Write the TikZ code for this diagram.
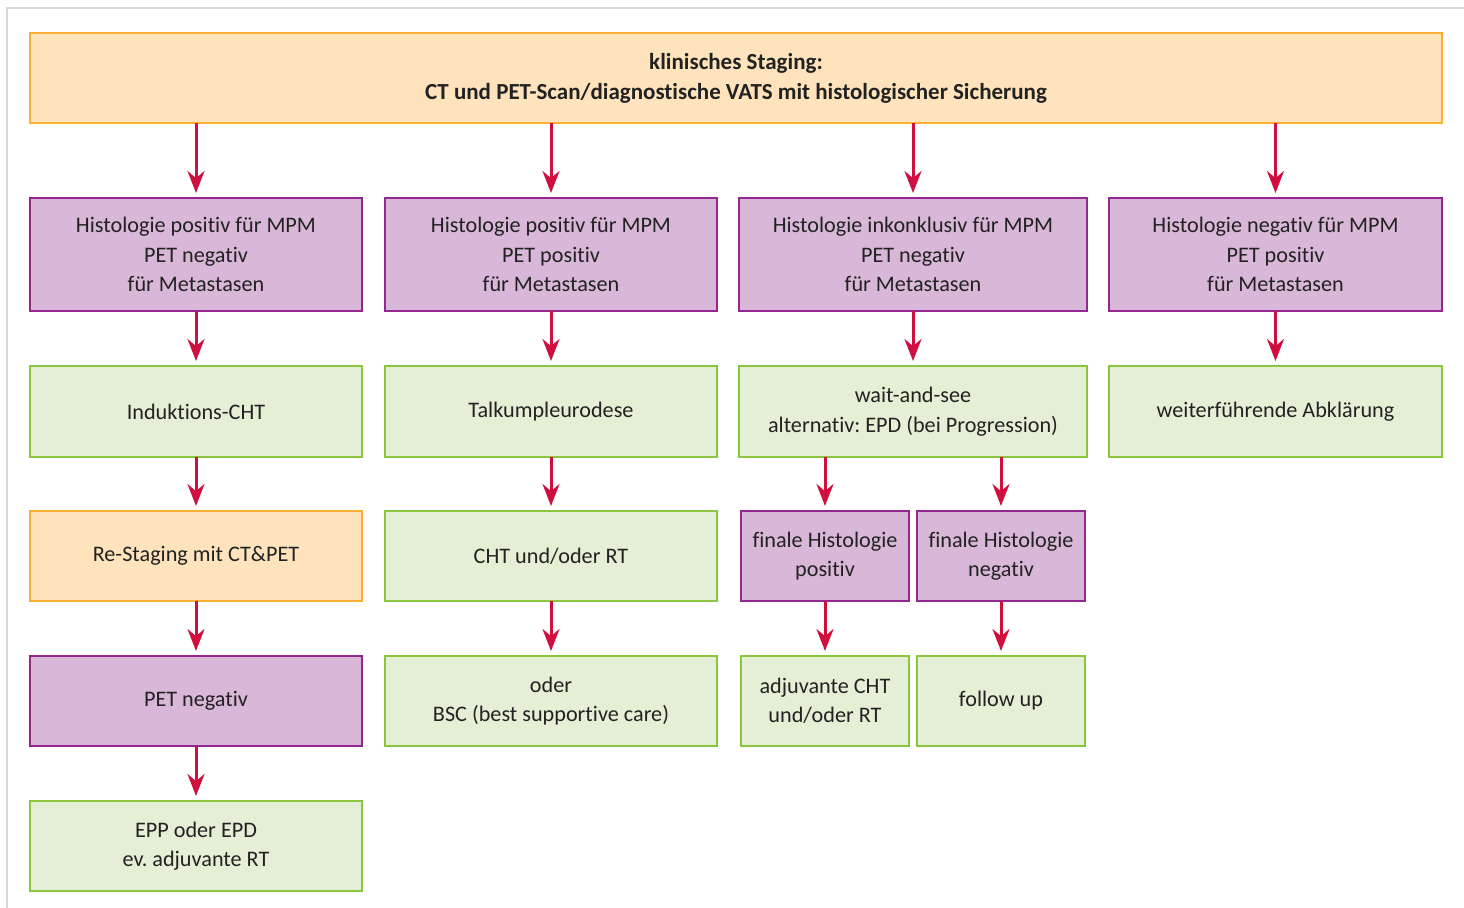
\documentclass[tikz,border=0pt]{standalone}
\usepackage{fontspec}
\setmainfont{Carlito}[Ligatures=NoCommon]
\usetikzlibrary{arrows.meta,positioning}
\frenchspacing

\definecolor{stagefill}{HTML}{FEE3BC}
\definecolor{stageline}{HTML}{FBB034}
\definecolor{befundfill}{HTML}{D9B7D8}
\definecolor{befundline}{HTML}{93278F}
\definecolor{therapiefill}{HTML}{E4EFD5}
\definecolor{therapieline}{HTML}{8CC63E}
\definecolor{pfeil}{HTML}{D10F3F}
\definecolor{schrift}{HTML}{222222}
\definecolor{rahmen}{HTML}{D9D9D9}

\begin{document}
\begin{tikzpicture}[x=0.5pt,y=-0.5pt,-{Stealth[length=11pt,width=8.5pt]},shorten >=2.5pt,
          line width=1.5pt,draw=pfeil,node distance=27.5pt,
          box/.style={rectangle,draw,line width=1pt,inner sep=0pt,outer sep=0pt,align=center,text=schrift,
            font=\fontsize{11.1}{14.75}\selectfont,minimum height=45pt,minimum width=166pt},
          staging/.style={box,draw=stageline,fill=stagefill},
          befund/.style={box,draw=befundline,fill=befundfill,minimum height=56.5pt},
          therapie/.style={box,draw=therapieline,fill=therapiefill}]

        \useasboundingbox (0,0) rectangle (1464,908);
        \draw[-,rahmen,line width=1pt,shorten >=0pt] (6.5,908) |- (1464,8);

        \node[staging,minimum width=706pt,font=\fontsize{11.5}{15}\selectfont\bfseries] (0) at (736,78)
          {klinisches Staging:\\CT und PET-Scan/diagnostische VATS mit histologischer Sicherung};

        \node[befund] (11) at (196,254.5) {Histologie positiv für MPM\\PET negativ\\für Metastasen};
        \node[befund] (21) at (551,254.5) {Histologie positiv für MPM\\PET positiv\\für Metastasen};
        \node[befund,minimum width=174pt] (31) at (913,254.5) {Histologie inkonklusiv für MPM\\PET negativ\\für Metastasen};
        \node[befund,minimum width=166.5pt] (41) at (1275.5,254.5) {Histologie negativ für MPM\\PET positiv\\für Metastasen};

        \node[therapie,minimum height=45.5pt] (12) [below=of 11] {Induktions-CHT};
        \node[staging] (13) [below=27pt of 12] {Re-Staging mit CT\&PET};
        \node[befund,minimum height=45pt] (14) [below=of 13] {PET negativ};
        \node[therapie] (15) [below=of 14] {EPP oder EPD\\ev. adjuvante RT};

        \node[therapie,minimum height=45.5pt] (22) [below=of 21] {Talkumpleurodese};
        \node[therapie] (23) [below=27pt of 22] {CHT und/oder RT};
        \node[therapie] (24) [below=of 23] {oder\\BSC (best supportive care)};

        \node[therapie,minimum width=174pt,minimum height=45.5pt] (32) [below=of 31] {wait-and-see\\alternativ: EPD (bei Progression)};
        \node[befund,minimum height=45pt,minimum width=84pt] (33a) at (825,556) {finale Histologie\\positiv};
        \node[befund,minimum height=45pt,minimum width=84pt] (33b) at (1001,556) {finale Histologie\\negativ};
        \node[therapie,minimum width=84pt] (34a) [below=of 33a] {adjuvante CHT\\und/oder RT};
        \node[therapie,minimum width=84pt] (34b) [below=of 33b] {follow up};

        \node[therapie,minimum width=166.5pt,minimum height=45.5pt] (42) [below=of 41] {weiterführende Abklärung};

        % von oben in die vier Spalten
        \foreach \n in {11,21,31,41}
          \draw (0.south -| \n) -- (\n);

        \draw (11) -- (12);
        \draw (12) -- (13);
        \draw (13) -- (14);
        \draw (14) -- (15);
        \draw (21) -- (22);
        \draw (22) -- (23);
        \draw (23) -- (24);
        \draw (31) -- (32);
        \draw (32.south -| 33a) -- (33a);
        \draw (32.south -| 33b) -- (33b);
        \draw (33a) -- (34a);
        \draw (33b) -- (34b);
        \draw (41) -- (42);
      \end{tikzpicture}
\end{document}
